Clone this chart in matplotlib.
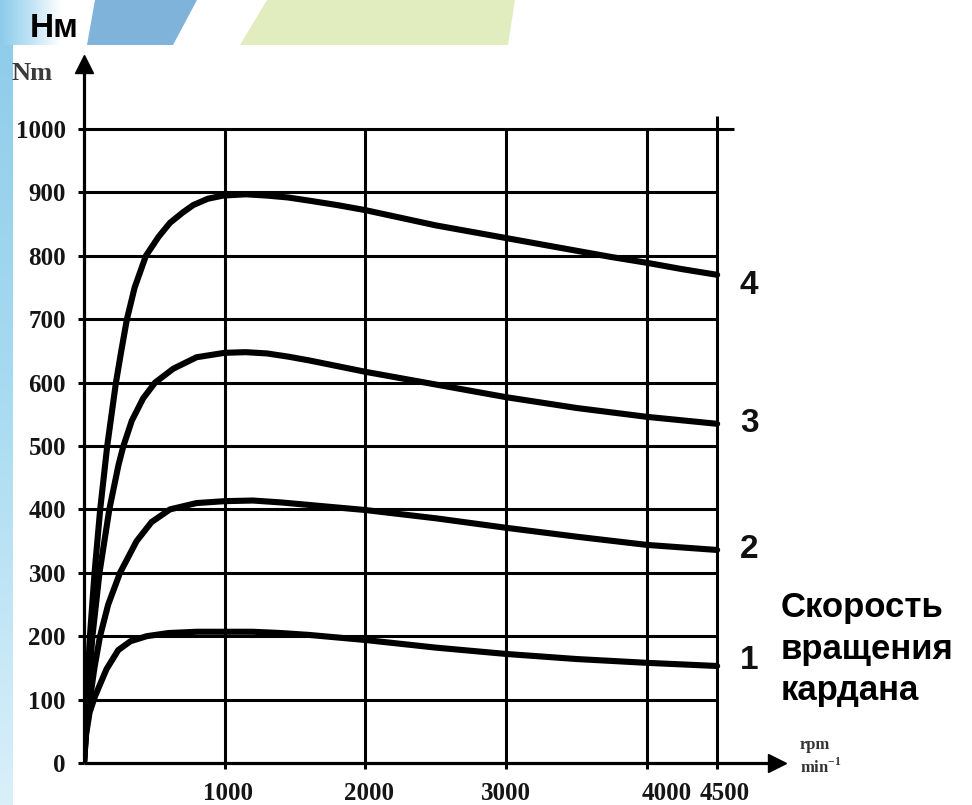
import matplotlib
matplotlib.use('Agg')
import matplotlib.pyplot as plt
import numpy as np
from matplotlib.patches import Polygon
from matplotlib.colors import LinearSegmentedColormap
import matplotlib.transforms as mtransforms

# ---------------- data ----------------
rpm_1 = [0, 15, 40, 78, 110, 160, 243, 330, 445, 600, 800, 1000, 1200, 1400, 1600, 1800, 2000, 2500, 3000, 3500,
         4000, 4500]
torque_1 = [0, 45, 80, 105, 122, 148, 178, 192, 200, 205, 207, 207, 207, 205, 202, 198, 194, 182, 172, 164,
            158, 153]

rpm_2 = [0, 18, 42, 74, 114, 172, 256, 374, 480, 611, 800, 1000, 1200, 1400, 1600, 1800, 2000, 2500, 3000, 3500,
         4000, 4500]
torque_2 = [0, 60, 100, 150, 200, 250, 300, 350, 380, 400, 410, 413, 414, 411, 407, 403, 399, 386, 371, 357,
            344, 336]

rpm_3 = [0, 25, 60, 110, 180, 245, 280, 340, 420, 505, 635, 800, 1000, 1150, 1300, 1450, 1600, 1800, 2000, 2500,
         3000, 3500, 4000, 4500]
torque_3 = [0, 100, 200, 300, 400, 470, 500, 540, 575, 600, 622, 640, 647, 648, 646, 641, 635, 626, 617, 597,
            577, 560, 546, 535]

rpm_4 = [0, 18, 42, 75, 115, 165, 227, 265, 305, 360, 440, 530, 611, 700, 776, 880, 990, 1150, 1300, 1450, 1600,
         1800, 2000, 2250, 2500, 2750, 3000, 3250, 3500, 3750, 4000, 4250, 4500]
torque_4 = [0, 100, 200, 300, 400, 500, 600, 650, 700, 750, 800, 830, 852, 868, 880, 890, 895, 897, 895, 892, 887,
            880, 872, 860, 848, 838, 828, 818, 808, 798, 789, 779, 770]

curves_rpm = [rpm_1, rpm_2, rpm_3, rpm_4]
curves_torque = [torque_1, torque_2, torque_3, torque_4]
curve_labels = ['1', '2', '3', '4']

y_ticks = [0, 100, 200, 300, 400, 500, 600, 700, 800, 900, 1000]
x_ticks = [1000, 2000, 3000, 4000, 4500]
x_tick_labels = ['1000', '2000', '3000', '4000', '4500']

unit_top = 'Нм'
unit_y = 'Nm'
unit_x = 'rpm\nmin$^{\\mathregular{-1}}$'
x_title = 'Скорость\nвращения\nкардана'

# ---------------- figure ----------------
W, H = 972, 805
fig = plt.figure(figsize=(W / 100, H / 100), dpi=100)
fig.patch.set_facecolor('white')

# decorative slide background (pixel coordinates)
bg = fig.add_axes([0, 0, 1, 1], zorder=0)
bg.axis('off')
cm_v = LinearSegmentedColormap.from_list('v', ['#8ccbea', '#a9dbf1', '#d9f0fa'])
bg.imshow(np.linspace(0, 1, 256).reshape(-1, 1), extent=(0, 12, H, 0), cmap=cm_v, aspect='auto', zorder=1)
cm_h = LinearSegmentedColormap.from_list('h', ['#8ccbea', '#bfe3f4', '#ffffff'])
bg.imshow(np.linspace(0, 1, 256).reshape(1, -1), extent=(0, 60, 45, 0), cmap=cm_h, aspect='auto', zorder=1)
bg.add_patch(Polygon([(87, 45), (95, 0), (197, 0), (173, 45)], closed=True, facecolor='#7fb3da',
                     edgecolor='none', zorder=1))
bg.add_patch(Polygon([(240, 45), (267, 0), (515, 0), (508, 45)], closed=True, facecolor='#e1edbf',
                     edgecolor='none', zorder=1))
bg.set_xlim(0, W)
bg.set_ylim(H, 0)

# main chart axes
px_per_rpm = 0.1407
px_per_nm = 0.634
x0_px, right_px, y0_px, top_px = 84, 777, 763, 64
ax = fig.add_axes([x0_px / W, (H - y0_px) / H, (right_px - x0_px) / W, (y0_px - top_px) / H], zorder=2)
ax.set_facecolor('none')
ax.set_xlim(0, (right_px - x0_px) / px_per_rpm)
ax.set_ylim(0, (y0_px - top_px) / px_per_nm)

for s in ['top', 'right']:
    ax.spines[s].set_visible(False)
for s in ['left', 'bottom']:
    ax.spines[s].set_linewidth(2.3)
    ax.spines[s].set_color('black')
    ax.spines[s].set_capstyle('butt')

# arrow heads
ax.plot([1], [0], marker='>', markersize=13, color='black', transform=ax.transAxes, clip_on=False, zorder=5)
ax.plot([0], [1], marker='^', markersize=13, color='black', transform=ax.transAxes, clip_on=False, zorder=5)

# grid
grid_lw = 2.2
for yv in y_ticks[1:]:
    xend = x_ticks[-1] if yv < y_ticks[-1] else x_ticks[-1] + 120
    ax.plot([0, xend], [yv, yv], color='black', lw=grid_lw, solid_capstyle='butt', zorder=2)
for xv in x_ticks:
    yend = y_ticks[-1] if xv < x_ticks[-1] else y_ticks[-1] + 20
    ax.plot([xv, xv], [0, yend], color='black', lw=grid_lw, solid_capstyle='butt', zorder=2)

# ticks
tick_font = dict(family='Liberation Serif', weight='bold', size=18, color='#151515')
ax.set_yticks(y_ticks)
ax.set_yticklabels([str(v) for v in y_ticks], fontdict=tick_font)
ax.set_xticks(x_ticks)
ax.set_xticklabels(x_tick_labels, fontdict=tick_font)
ax.tick_params(axis='both', direction='out', length=4, width=2.2, color='black')
ax.tick_params(axis='y', pad=9)
ax.tick_params(axis='x', pad=10)
# nudge the crowded x labels like the original
shifts = [3, 4, 0, 20, 8]
for lab, sh in zip(ax.get_xticklabels(), shifts):
    lab.set_transform(lab.get_transform() + mtransforms.ScaledTranslation(sh / 100, 0, fig.dpi_scale_trans))

# curves
for xs, ys in zip(curves_rpm, curves_torque):
    ax.plot(xs, ys, color='black', lw=4.4, solid_capstyle='round', solid_joinstyle='round', zorder=4)

label_dy = [4, 0, 0, -8]
for xs, ys, lbl, dy in zip(curves_rpm, curves_torque, curve_labels, label_dy):
    ax.annotate(lbl, xy=(xs[-1], ys[-1]), xytext=(23, dy), textcoords='offset points',
                ha='center', va='center', fontsize=24, weight='bold', family='Liberation Sans',
                color='#111111')

# texts
fig.text(30 / W, 1 - 37 / H, unit_top, fontsize=24, weight='bold', family='Liberation Sans',
         va='baseline', ha='left')
fig.text(12 / W, 1 - 73 / H, unit_y, fontsize=19, weight='bold', family='Liberation Serif', color='#3a3a3a',
         va='center', ha='left')
fig.text(800 / W, 1 - 757 / H, unit_x, fontsize=12, weight='bold', family='Liberation Serif', color='#333333',
         va='center', ha='left', linespacing=1.3)
fig.text(781 / W, 1 - 591 / H, x_title, fontsize=25, weight='bold', family='Liberation Sans', va='top',
         ha='left', linespacing=1.33)

fig.savefig('out.png', dpi=100, facecolor='white')
